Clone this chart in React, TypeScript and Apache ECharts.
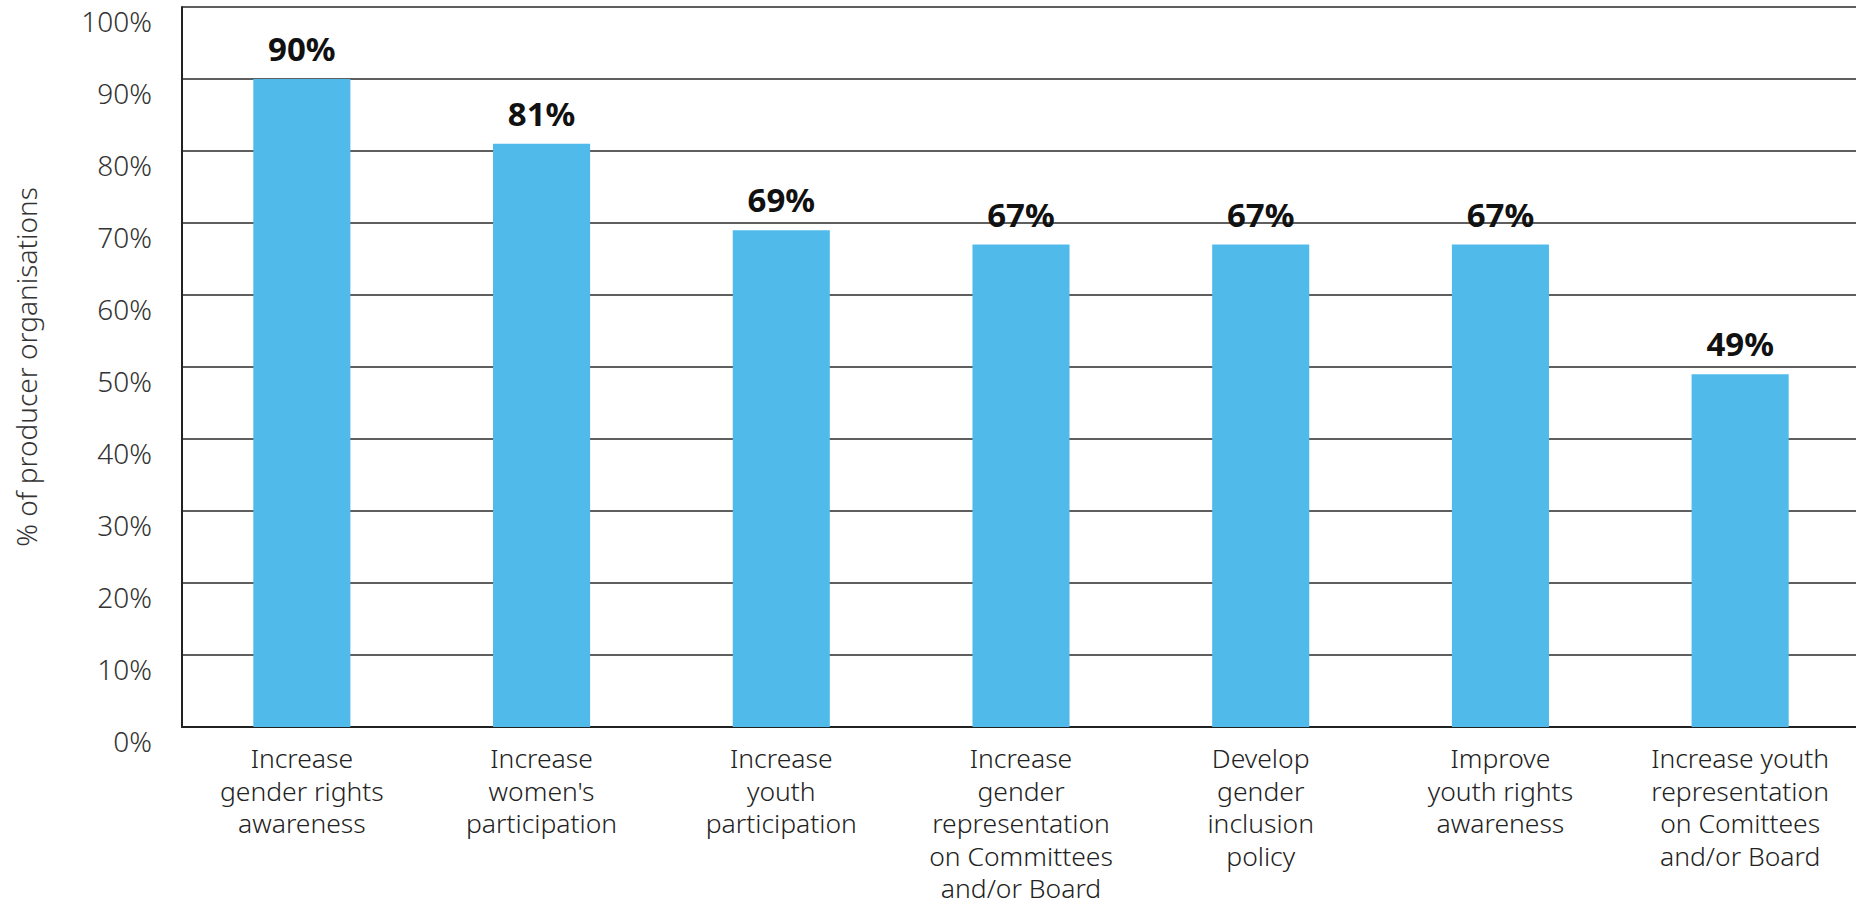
import React, { useEffect, useRef } from "react";
import * as echarts from "echarts";

const categories = [
  "Increase\ngender rights\nawareness",
  "Increase\nwomen's\nparticipation",
  "Increase\nyouth\nparticipation",
  "Increase\ngender\nrepresentation\non Committees\nand/or Board",
  "Develop\ngender\ninclusion\npolicy",
  "Improve\nyouth rights\nawareness",
  "Increase youth\nrepresentation\non Comittees\nand/or Board",
];
const values = [90, 81, 69, 67, 67, 67, 49];
const yAxisTitle = "% of producer organisations";

const FONT = "'Noto Sans', 'Open Sans', sans-serif";

export default function App() {
  const ref = useRef<HTMLDivElement>(null);

  useEffect(() => {
    if (!ref.current) return;
    const chart = echarts.init(ref.current, undefined, { renderer: "svg" });
    chart.setOption({
      animation: false,
      backgroundColor: "#ffffff",
      grid: {
        left: 182,
        right: -4,
        top: 7,
        bottom: 178,
        containLabel: false,
        outerBoundsMode: "none",
      },
      xAxis: {
        type: "category",
        data: categories,
        axisLine: { show: true, lineStyle: { color: "#222", width: 2 } },
        axisTick: { show: false },
        axisLabel: {
          interval: 0,
          margin: 15,
          fontSize: 26.5,
          lineHeight: 32.5,
          color: "#222",
          fontFamily: FONT,
          fontWeight: 300,
          align: "center",
        },
      },
      yAxis: {
        type: "value",
        min: 0,
        max: 100,
        interval: 10,
        name: yAxisTitle,
        nameLocation: "middle",
        nameRotate: 90,
        nameGap: 142,
        nameTextStyle: { fontSize: 28, color: "#333", fontFamily: FONT, fontWeight: 300 },
        axisLine: { show: true, lineStyle: { color: "#222", width: 2 } },
        axisTick: { show: false },
        splitLine: { show: true, lineStyle: { color: "#2a2a2a", width: 1.5 } },
        axisLabel: {
          formatter: (v: number) => `${v}%`,
          fontSize: 28,
          color: "#333",
          fontFamily: FONT,
          fontWeight: 300,
          margin: 30,
          verticalAlign: "top",
          padding: [0, 0, 0, 0],
        },
      },
      series: [
        {
          type: "bar",
          data: values,
          barWidth: "40.5%",
          itemStyle: { color: "#50BBEB" },
          label: {
            show: true,
            position: "top",
            distance: 14,
            formatter: "{c}%",
            fontSize: 33,
            fontWeight: "bold",
            color: "#111",
            fontFamily: FONT,
          },
        },
      ],
    });
    return () => chart.dispose();
  }, []);

  return (
    <div
      ref={ref}
      style={{ position: "absolute", left: 0, top: 0, width: 1856, height: 905, background: "#fff" }}
    />
  );
}
